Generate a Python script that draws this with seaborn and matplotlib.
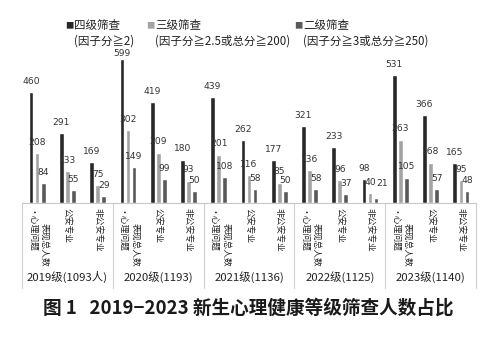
import matplotlib
matplotlib.use("Agg")
import matplotlib.pyplot as plt
import seaborn as sns
import pandas as pd

# ---- data ----
years = ["2019级(1093人)", "2020级(1193)", "2021级(1136)", "2022级(1125)", "2023级(1140)"]
groups = ["心理问题表现总人数", "公安专业", "非公安专业"]
levels = ["四级筛查", "三级筛查", "二级筛查"]
level_notes = ["(因子分≧2)", "(因子分≧2.5或总分≧200)", "(因子分≧3或总分≧250)"]

level4 = [460, 291, 169, 599, 419, 180, 439, 262, 177, 321, 233, 98, 531, 366, 165]
level3 = [208, 133, 75, 302, 209, 93, 201, 116, 85, 136, 96, 40, 263, 168, 95]
level2 = [84, 55, 29, 149, 99, 50, 108, 58, 50, 58, 37, 21, 105, 57, 48]

colors = ["#282828", "#a3a3a3", "#595959"]

# ---- long-form table ----
slots = [f"{y}|{g}" for y in years for g in groups]
rows = []
for lvl, vals in zip(levels, [level4, level3, level2]):
    for s, v in zip(slots, vals):
        rows.append({"slot": s, "level": lvl, "count": v})
df = pd.DataFrame(rows)

sns.set_theme(style="white")
plt.rcParams["font.family"] = ["Noto Sans CJK SC", "DejaVu Sans"]

fig = plt.figure(figsize=(5.0, 3.39), dpi=100)
W, H = 500, 339
base_px, top_px = 203, 34.6
ax = fig.add_axes([22 / W, 1 - base_px / H, 454 / W, (base_px - top_px) / H])

sns.barplot(data=df, x="slot", y="count", hue="level", order=slots,
            hue_order=levels, palette=colors, width=0.6, gap=0.22,
            saturation=1, legend=False, ax=ax)

ax.set_ylim(0, 700)
ax.set_xlim(-0.5, len(slots) - 0.5)
ax.set_xlabel("")
ax.set_ylabel("")
ax.set_xticks([])
ax.set_yticks([])
for side in ["top", "right", "left"]:
    ax.spines[side].set_visible(False)
ax.spines["bottom"].set_color("#c8c8c8")
ax.spines["bottom"].set_linewidth(0.8)

# value labels above bars (the tallest one tucked under the legend,
# small neighbouring labels nudged apart)
top_val = max(level4)
for k, cont in enumerate(ax.containers):
    for j, bar in enumerate(cont):
        h = bar.get_height()
        dx, dy = 0.0, 4.5
        if h == top_val:
            dy = 0.5
        if k == 2 and level3[j] < 50:
            dx, dy = 4.0, 7.5
        ax.annotate(f"{int(h)}", (bar.get_x() + bar.get_width() / 2, h),
                    xytext=(dx, dy), textcoords="offset points",
                    ha="center", va="bottom", fontsize=6.6,
                    family="DejaVu Sans", color="#333333")

# category area: separators and labels
px_per_frac = base_px - top_px
def yfrac(ypix):
    return (base_px - ypix) / px_per_frac

tr = ax.get_xaxis_transform()
for b in range(len(years) + 1):
    xb = -0.5 + 3 * b
    ax.plot([xb, xb], [0, yfrac(288)], transform=tr, color="#cfcfcf",
            lw=0.8, clip_on=False)

lab_kw = dict(transform=tr, rotation=-90, fontsize=6.3, color="#222222",
              ha="center", va="top")
for i, y in enumerate(years):
    c0 = 3 * i
    ax.text(c0 - 0.24, yfrac(210), "·心理问题", **lab_kw)
    ax.text(c0 + 0.24, yfrac(223), "表现总人数", **lab_kw)
    ax.text(c0 + 1, yfrac(208), "公安专业", **lab_kw)
    ax.text(c0 + 2, yfrac(208), "非公安专业", **lab_kw)
    ax.text(c0 + 1, yfrac(277), y, transform=tr, ha="center", va="center",
            fontsize=8.2, color="#222222")

# legend
leg_x = [65, 146, 294]
for x0, lvl, note, col in zip(leg_x, levels, level_notes, colors):
    fig.text(x0 / W, 1 - 25.5 / H, "■", color=col, fontsize=6,
             ha="left", va="center")
    fig.text((x0 + 9) / W, 1 - 25.5 / H, lvl, fontsize=8.3,
             ha="left", va="center", color="#222222")
    fig.text((x0 + 9) / W, 1 - 41 / H, note, fontsize=8.3,
             ha="left", va="center", color="#222222")

# caption
fig.text(248 / W, 1 - 308 / H, "图 1   2019−2023 新生心理健康等级筛查人数占比",
         fontsize=13.4, fontweight="bold", ha="center", va="center",
         color="#1a1a1a")

fig.savefig("out.png", dpi=100, facecolor="white")
